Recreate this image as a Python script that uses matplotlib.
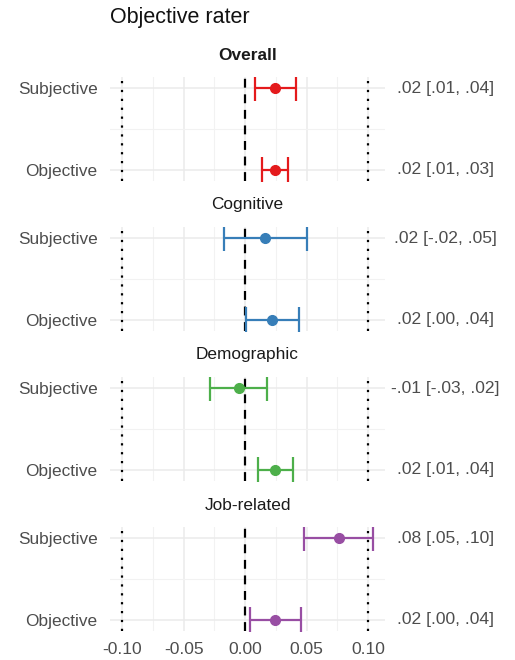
import matplotlib.pyplot as plt
from matplotlib.ticker import MultipleLocator

# Data
domains = ["Overall", "Cognitive", "Demographic", "Job-related"]
raters = ["Objective", "Subjective"]
colors = ["#E41A1C", "#377EB8", "#4DAF4A", "#984EA3"]

# order within each domain: Objective, Subjective
est = [[0.024, 0.024], [0.022, 0.016], [0.024, -0.005], [0.024, 0.076]]
ci_low = [[0.0135, 0.0076], [0.0005, -0.0176], [0.0103, -0.0285], [0.0041, 0.048]]
ci_high = [[0.0347, 0.0415], [0.0439, 0.050], [0.0388, 0.0176], [0.0453, 0.1038]]
labels = [[".02 [.01, .03]", ".02 [.01, .04]"],
          [".02 [.00, .04]", ".02 [-.02, .05]"],
          [".02 [.01, .04]", "-.01 [-.03, .02]"],
          [".02 [.00, .04]", ".08 [.05, .10]"]]
xticks = [-0.10, -0.05, 0.00, 0.05, 0.10]
xticklabels = ["-0.10", "-0.05", "0.00", "0.05", "0.10"]

plt.rcParams["font.family"] = ["Liberation Sans", "DejaVu Sans"]

W, H = 515, 660
fig = plt.figure(figsize=(W / 100, H / 100), dpi=100)

fig.text(110 / W, 1 - 18 / H, "Objective rater", fontsize=15.5, color="#111111",
         va="center", ha="left")

left, right = 110, 385
panel_h = 104
tops = [77, 227, 377, 527]

for i, dom in enumerate(domains):
    top = tops[i]
    ax = fig.add_axes([left / W, 1 - (top + panel_h) / H, (right - left) / W, panel_h / H])
    ax.set_xlim(-0.11, 0.1137)
    ax.set_ylim(0.86, 2.14)

    ax.xaxis.set_major_locator(MultipleLocator(0.05))
    ax.xaxis.set_minor_locator(MultipleLocator(0.025))
    ax.set_yticks([1, 2])
    ax.set_yticks([1.5], minor=True)
    ax.grid(True, which="major", color="#EBEBEB", linewidth=1.1)
    ax.grid(True, which="minor", color="#F2F2F2", linewidth=0.8)
    ax.set_axisbelow(True)
    for s in ax.spines.values():
        s.set_visible(False)
    ax.tick_params(which="both", length=0)
    ax.set_yticklabels(raters, fontsize=12.4, color="#4D4D4D")
    ax.tick_params(axis="y", pad=9)

    ax.axvline(0, color="black", linestyle=(0, (4, 3)), linewidth=1.6, zorder=2)
    ax.axvline(-0.1, color="black", linestyle=(0, (1, 3)), linewidth=1.6, zorder=2)
    ax.axvline(0.1, color="black", linestyle=(0, (1, 3)), linewidth=1.6, zorder=2)

    for j in range(2):
        y = j + 1
        e = est[i][j]
        ax.errorbar([e], [y], xerr=[[e - ci_low[i][j]], [ci_high[i][j] - e]],
                    fmt="o", color=colors[i], markersize=7, elinewidth=1.6,
                    capsize=9.5, capthick=1.6, zorder=3)
        ax.text(1.22, y, labels[i][j], transform=ax.get_yaxis_transform(),
                ha="center", va="center", fontsize=12.6, color="#4D4D4D",
                clip_on=False)

    ax.text(0.5, 1 + 22 / panel_h, dom, transform=ax.transAxes, ha="center",
            va="center", fontsize=12.4, color="#1A1A1A",
            fontweight="bold" if dom == "Overall" else "normal")

    if i == len(domains) - 1:
        ax.set_xticks(xticks)
        ax.set_xticklabels(xticklabels, fontsize=12.6, color="#4D4D4D")
        ax.tick_params(axis="x", pad=8)
    else:
        ax.tick_params(axis="x", labelbottom=False)

plt.savefig("out.png", dpi=100)
